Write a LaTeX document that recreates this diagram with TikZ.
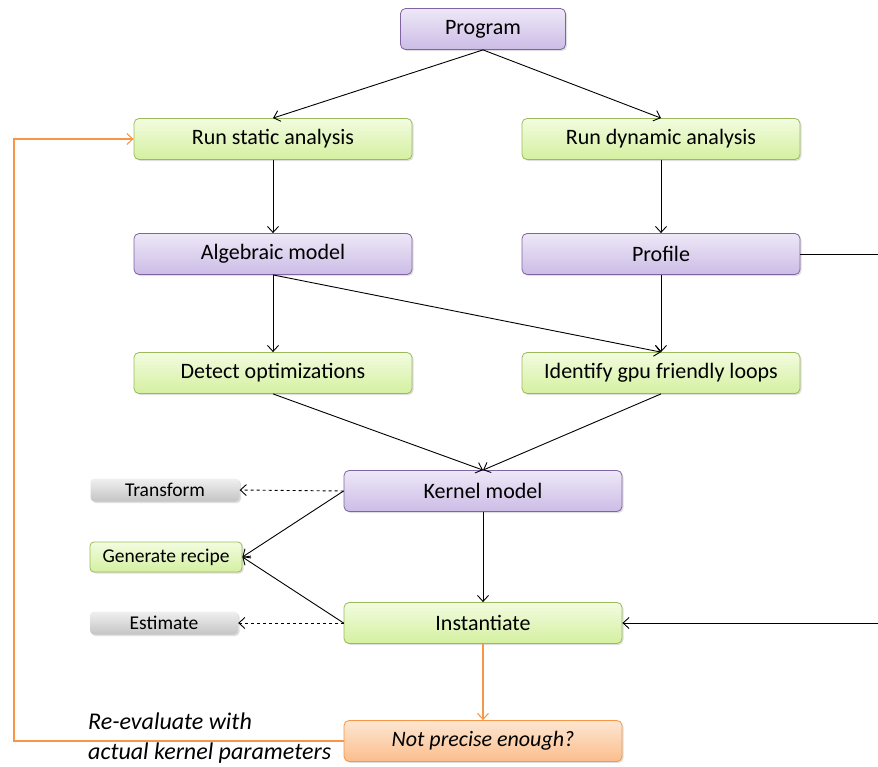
\documentclass[tikz,border=0pt]{standalone}
\usepackage{fontspec}
\setmainfont{Carlito}
\usetikzlibrary{arrows.meta}
\usetikzlibrary{shadows}
\usetikzlibrary{positioning}

\definecolor{purpleTop}{HTML}{EEE8F7}
\definecolor{purpleBot}{HTML}{CBBCE6}
\definecolor{purpleLine}{HTML}{8064A2}
\definecolor{greenTop}{HTML}{F2FCE0}
\definecolor{greenBot}{HTML}{D4F0A0}
\definecolor{greenLine}{HTML}{9BBB59}
\definecolor{orangeTop}{HTML}{FDE6D2}
\definecolor{orangeBot}{HTML}{FBBE8C}
\definecolor{orangeLine}{HTML}{F79646}
\definecolor{grayTop}{HTML}{F0F0F0}
\definecolor{grayBot}{HTML}{C4C4C4}

\tikzset{
  box/.style={rounded corners=5pt, minimum width=278pt, minimum height=41pt,
    inner sep=0pt, line width=0.8pt, font=\fontsize{22}{26}\selectfont,
    drop shadow={shadow xshift=1.5pt, shadow yshift=-1.5pt, opacity=0.25}},
  modelbox/.style={box, draw=purpleLine, top color=purpleTop, bottom color=purpleBot},
  stepbox/.style={box, draw=greenLine, top color=greenTop, bottom color=greenBot},
  askbox/.style={box, draw=orangeLine, top color=orangeTop, bottom color=orangeBot,
    font=\fontsize{22}{26}\selectfont\itshape},
  smallbox/.style={rounded corners=4pt, inner sep=0pt, minimum height=23pt,
    font=\fontsize{19.5}{22}\selectfont,
    drop shadow={shadow xshift=1.5pt, shadow yshift=-1.5pt, opacity=0.25}},
  sidebox/.style={smallbox, top color=grayTop, bottom color=grayBot},
  recipebox/.style={smallbox, draw=greenLine, line width=0.8pt, minimum height=30pt,
    top color=greenTop, bottom color=greenBot},
  flow/.style={->, line width=0.9pt},
  hint/.style={->, line width=0.9pt, dashed},
  back/.style={->, line width=1.1pt, draw=orangeLine},
}

\begin{document}
\begin{tikzpicture}[x=1pt, y=-1pt, >={Straight Barb[length=6pt,width=11pt]}]
  \useasboundingbox (0,0) rectangle (878,766);
  \clip (0,0) rectangle (878,766);

  % main flow
  \node[modelbox, minimum width=165pt] (program) at (483,29) {Program};
  \node[stepbox] (static) at (273,139) {Run static analysis};
  \node[stepbox] (dynamic) at (661,139) {Run dynamic analysis};
  \node[modelbox] (algebraic) at (273,254) {Algebraic model};
  \node[modelbox] (profile) at (661,254) {Profile};
  \node[stepbox] (detect) at (273,373) {Detect optimizations};
  \node[stepbox] (identify) at (661,373) {Identify gpu friendly loops};
  \node[modelbox] (kernel) at (483,491) {Kernel model};
  \node[stepbox] (instantiate) at (483,623) {Instantiate};
  \node[askbox] (precise) at (483,741) {Not precise enough?};

  % side boxes
  \node[sidebox, minimum width=149pt] (transform) at (165,490) {Transform};
  \node[recipebox, minimum width=152pt] (recipe) at (166,557) {Generate recipe};
  \node[sidebox, minimum width=148pt] (estimate) at (164,623) {Estimate};

  \coordinate (farTop) at (890,254);
  \coordinate (farBot) at (890,623);
  \coordinate (loopCorner) at (14,741);

  \draw[flow] (program.south) -- (static.north);
  \draw[flow] (program.south) -- (dynamic.north);
  \draw[flow] (static) -- (algebraic);
  \draw[flow] (dynamic) -- (profile);
  \draw[flow] (algebraic) -- (detect);
  \draw[flow] (algebraic.south) -- (identify.north);
  \draw[flow] (profile) -- (identify);
  \draw[flow] (detect.south) -- (kernel.north);
  \draw[flow] (identify.south) -- (kernel.north);
  \draw[flow] (kernel) -- (instantiate);
  \draw[flow] (kernel.west) -- (recipe.east);
  \draw[flow] (instantiate.west) -- (recipe.east);
  \draw[hint] (kernel.west) -- (transform.east);
  \draw[hint] (instantiate.west) -- (estimate.east);
  \draw[flow] (profile.east) -- (farTop) -- (farBot) -- (instantiate.east);

  % feedback loop
  \draw[back] (instantiate) -- (precise);
  \draw[back] (precise.west) -- (loopCorner) |- (static.west);
  \node[anchor=south west, align=left, inner sep=0pt, font=\fontsize{24}{30}\selectfont\itshape]
    (reeval) at (88,764) {Re-evaluate with\\actual kernel parameters};
\end{tikzpicture}
\end{document}
